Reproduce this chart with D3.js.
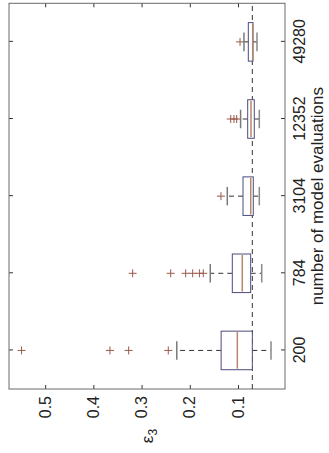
<!DOCTYPE html>
<html>
<head>
<meta charset="utf-8">
<script src="https://cdn.jsdelivr.net/npm/d3@7"></script>
<style>
  body { margin: 0; background: #fff; }
</style>
</head>
<body>
<svg id="svg" width="329" height="453"></svg>
<script>
// box plot data (values of eps3 per sample size)
const categories = ["200", "784", "3104", "12352", "49280"];
const q1 = [0.0703, 0.0737, 0.0683, 0.0662, 0.0689];
const medians = [0.1014, 0.0911, 0.0736, 0.0730, 0.0695];
const q3 = [0.1350, 0.1118, 0.0896, 0.0799, 0.0786];
const whiskerLow = [0.0315, 0.0508, 0.0558, 0.0558, 0.0606];
const whiskerHigh = [0.2270, 0.1575, 0.1222, 0.0946, 0.0876];
const outliers = [
  [0.549, 0.3656, 0.3268, 0.2446],
  [0.3185, 0.2396, 0.2085, 0.194, 0.180, 0.172],
  [0.1353],
  [0.1151, 0.1083, 0.1027],
  [0.0958]
];
const refValue = 0.0703;
const valueTicks = [0.1, 0.2, 0.3, 0.4, 0.5];

const FONT = "'Liberation Sans', Arial, Helvetica, sans-serif";

// the whole chart is drawn upright and then turned a quarter turn
const W = 385.7, H = 276;
const svg = d3.select("#svg");
const g = svg.append("g").attr("transform", "translate(9,389) rotate(-90)");

const x = d3.scaleLinear().domain([0.5, 5.5]).range([0, W]);
const y = d3.scaleLinear().domain([0.0025, 0.575]).range([H, 0]);

// axes
g.append("g").attr("transform", `translate(0,${H})`)
  .call(d3.axisBottom(x).tickValues([1, 2, 3, 4, 5])
    .tickFormat((d, i) => categories[i]).tickSize(-4).tickPadding(9));
g.append("g")
  .call(d3.axisLeft(y).tickValues(valueTicks).tickFormat(d3.format(".1f"))
    .tickSize(-4).tickPadding(7));
g.append("g").call(d3.axisTop(x).tickValues([1, 2, 3, 4, 5]).tickFormat("").tickSize(-4));
g.append("g").attr("transform", `translate(${W},0)`)
  .call(d3.axisRight(y).tickValues(valueTicks).tickFormat("").tickSize(-4));
g.selectAll(".domain").remove();
g.selectAll(".tick line").attr("stroke", "#333");
g.selectAll(".tick text")
  .attr("font-size", 16).attr("fill", "#222")
  .style("font-family", FONT);

g.append("rect").attr("x", 0).attr("y", 0).attr("width", W).attr("height", H)
  .attr("fill", "none").attr("stroke", "#6a6a6a").attr("stroke-width", 1);

// reference line
g.append("line")
  .attr("x1", 0).attr("x2", W)
  .attr("y1", y(refValue)).attr("y2", y(refValue))
  .attr("stroke", "#333").attr("stroke-dasharray", "5,4");

const boxHalf = x(1.25) - x(1);
const capHalf = x(1.12) - x(1);

const boxes = g.selectAll(".box").data(categories).enter().append("g").attr("class", "box");

// whiskers
boxes.append("line")
  .attr("x1", (d, i) => x(i + 1)).attr("x2", (d, i) => x(i + 1))
  .attr("y1", (d, i) => y(q3[i])).attr("y2", (d, i) => y(whiskerHigh[i]))
  .attr("stroke", "#333").attr("stroke-dasharray", "5,4");
boxes.append("line")
  .attr("x1", (d, i) => x(i + 1)).attr("x2", (d, i) => x(i + 1))
  .attr("y1", (d, i) => y(q1[i])).attr("y2", (d, i) => y(whiskerLow[i]))
  .attr("stroke", "#333").attr("stroke-dasharray", "5,4");
// caps
boxes.append("line")
  .attr("x1", (d, i) => x(i + 1) - capHalf).attr("x2", (d, i) => x(i + 1) + capHalf)
  .attr("y1", (d, i) => y(whiskerHigh[i])).attr("y2", (d, i) => y(whiskerHigh[i]))
  .attr("stroke", "#7a7a7a").attr("stroke-width", 1.5);
boxes.append("line")
  .attr("x1", (d, i) => x(i + 1) - capHalf).attr("x2", (d, i) => x(i + 1) + capHalf)
  .attr("y1", (d, i) => y(whiskerLow[i])).attr("y2", (d, i) => y(whiskerLow[i]))
  .attr("stroke", "#8a8a8a").attr("stroke-width", 1.5);
// box
boxes.append("rect")
  .attr("x", (d, i) => x(i + 1) - boxHalf).attr("width", 2 * boxHalf)
  .attr("y", (d, i) => y(q3[i])).attr("height", (d, i) => y(q1[i]) - y(q3[i]))
  .attr("fill", "#fff").attr("stroke", "#4b4b7d").attr("stroke-width", 1);
// median
boxes.append("line")
  .attr("x1", (d, i) => x(i + 1) - boxHalf + 1).attr("x2", (d, i) => x(i + 1) + boxHalf - 1)
  .attr("y1", (d, i) => y(medians[i])).attr("y2", (d, i) => y(medians[i]))
  .attr("stroke", "#b8846e").attr("stroke-width", 1.5);

// outliers as + marks
const pts = [];
outliers.forEach((arr, i) => arr.forEach(v => pts.push({ c: i + 1, v })));
g.selectAll(".out").data(pts).enter().append("path").attr("class", "out")
  .attr("d", d => {
    const cx = x(d.c), cy = y(d.v), r = 4;
    return `M${cx - r},${cy}H${cx + r}M${cx},${cy - r}V${cy + r}`;
  })
  .attr("stroke", "#9c5a4a").attr("stroke-width", 1).attr("fill", "none");

// labels
g.append("text")
  .attr("x", W / 2).attr("y", H + 32)
  .attr("text-anchor", "middle").attr("dy", "0.35em")
  .attr("font-size", 17).attr("fill", "#222")
  .style("font-family", FONT)
  .text("number of model evaluations");

const yl = g.append("text")
  .attr("x", -47).attr("y", H / 2)
  .attr("text-anchor", "middle").attr("dy", "0.35em")
  .attr("font-size", 17).attr("fill", "#222")
  .style("font-family", FONT);
yl.append("tspan").text("ε");
yl.append("tspan").attr("font-size", 12).attr("dy", "0.3em").text("3");
</script>
</body>
</html>
